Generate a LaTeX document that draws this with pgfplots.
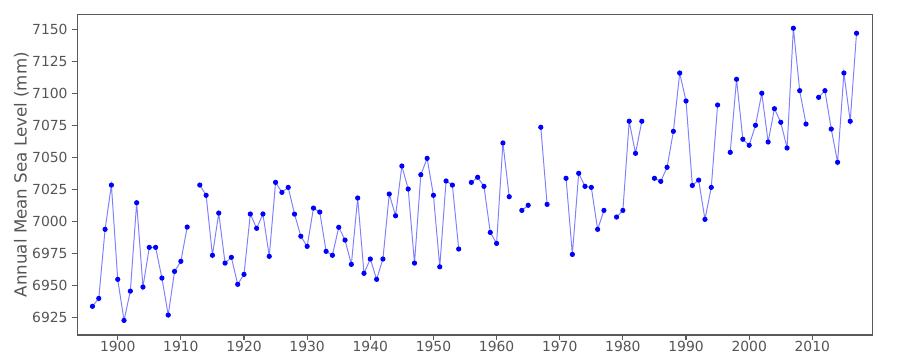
\documentclass[border=0pt]{standalone}
\usepackage{fontspec}
\setmainfont{DejaVu Sans}
\usepackage{pgfplots}
\pgfplotsset{compat=1.18}
\definecolor{txt}{RGB}{85,85,85}
\definecolor{spine}{RGB}{90,90,90}
\definecolor{ln}{RGB}{128,128,255}
\begin{document}
\begin{tikzpicture}
\path[use as bounding box] (-55.66pt,-18pt) rectangle (592.34pt,241.2pt);
\begin{axis}[
  at={(0pt,0pt)}, anchor=south west,
  scale only axis, width=572.4pt, height=230.9pt,
  xmin=1893.6, xmax=2019.5, ymin=6911, ymax=7161.7,
  axis line style={spine, line width=0.8pt},
  tick style={spine, line width=0.8pt},
  tick align=outside, major tick length=3.5pt,
  xtick pos=left, ytick pos=left,
  xtick={1900,1910,...,2010}, ytick={6925,6950,...,7150},
  every tick label/.append style={font=\fontsize{10}{12}\selectfont, text=txt},
  xticklabel style={yshift=2.5pt},
  /pgf/number format/assume math mode=true,
  /pgf/number format/1000 sep={},
  ylabel={Annual Mean Sea Level (mm)},
  ylabel style={font=\fontsize{12}{14}\selectfont, text=txt, yshift=-4.5pt},
  unbounded coords=jump,
]
\addplot[ln, line width=0.7pt, mark=*, mark size=1.5pt, mark options={draw=blue, fill=blue}] table {
x y
1896 6933.4
1897 6939.6
1898 6993.6
1899 7028.2
1900 6954.5
1901 6922.4
1902 6945.3
1903 7014.4
1904 6948.5
1905 6979.5
1906 6979.5
1907 6955.5
1908 6926.6
1909 6960.7
1910 6968.6
1911 6995.4
1912 nan
1913 7028.2
1914 7020.2
1915 6973.3
1916 7006.3
1917 6967.2
1918 6971.7
1919 6950.6
1920 6958.4
1921 7005.6
1922 6994.4
1923 7005.6
1924 6972.5
1925 7030.3
1926 7022.5
1927 7026.4
1928 7005.5
1929 6988.2
1930 6980.3
1931 7010.2
1932 7007.1
1933 6976.4
1934 6973.3
1935 6995.2
1936 6985.2
1937 6966.2
1938 7018.1
1939 6959.2
1940 6970.4
1941 6954.5
1942 6970.4
1943 7021.2
1944 7004.2
1945 7043.1
1946 7025.1
1947 6967.2
1948 7036.3
1949 7049.1
1950 7020.2
1951 6964.3
1952 7031.4
1953 7028.2
1954 6978.2
1955 nan
1956 7030.3
1957 7034.3
1958 7027.2
1959 6991.2
1960 6982.6
1961 7061.1
1962 7019.1
1963 nan
1964 7008.4
1965 7012.4
1966 nan
1967 7073.4
1968 7013.1
1969 nan
1970 nan
1971 7033.5
1972 6974.0
1973 7037.4
1974 7027.2
1975 7026.4
1976 6993.6
1977 7008.4
1978 nan
1979 7003.2
1980 7008.4
1981 7078.1
1982 7053.0
1983 7078.1
1984 nan
1985 7033.5
1986 7031.1
1987 7042.1
1988 7070.2
1989 7115.8
1990 7093.9
1991 7027.9
1992 7032.1
1993 7001.4
1994 7026.4
1995 7090.8
1996 nan
1997 7053.8
1998 7110.9
1999 7064.0
2000 7059.3
2001 7074.9
2002 7100.0
2003 7061.9
2004 7087.9
2005 7077.3
2006 7057.2
2007 7150.8
2008 7102.0
2009 7075.9
2010 nan
2011 7096.8
2012 7102.0
2013 7072.0
2014 7046.0
2015 7115.8
2016 7078.1
2017 7146.9
};
\end{axis}
\end{tikzpicture}
\end{document}
